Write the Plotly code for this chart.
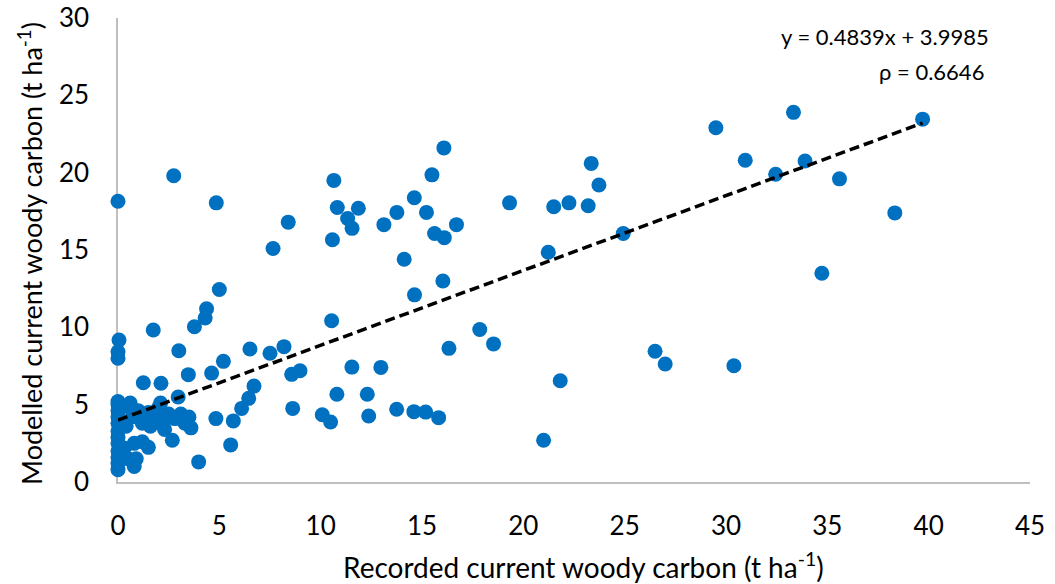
import plotly.graph_objects as go

# Recorded vs modelled current woody carbon (t ha-1) per plot
recorded = [
    0, 2.75, 4.85, 7.65, 8.4, 10.65, 10.82, 10.58, 11.33, 11.55, 11.86, 13.12,
    13.76, 14.12, 14.62, 15.22, 15.49, 15.62, 16.1, 16.08, 16.7, 19.32, 16.03,
    14.63, 21.5, 22.25, 23.2, 23.35, 23.73, 21.23, 24.93, 29.5, 33.33, 30.95,
    32.45, 33.9, 35.6, 39.7, 38.33, 34.73, 17.85, 18.53, 26.5, 27.0, 30.39,
    21.82, 21.0, 10.54, 16.33, 8.19, 7.5, 8.57, 8.98, 11.54, 12.97, 10.8, 12.3,
    8.62, 10.08, 10.49, 12.37, 13.75, 14.6, 15.18, 15.82, 5.0, 4.37, 4.3, 3.77,
    1.74, 0.05, 0, 0, 3.0, 5.2, 6.51, 3.47, 4.62, 1.25, 2.12, 6.71, 6.45, 6.1,
    5.69, 4.83, 5.56, 3.98, 2.68, 1.5, 2.97,
    0, 0, 0, 0, 0, 0, 0, 0, 0, 0, 0, 0,
    0.4, 0.6, 0.4, 0.3, 0.5, 0.8, 0.9, 0.8, 1.0, 1.2, 1.5, 1.6, 1.9, 2.1, 2.2,
    2.5, 2.8, 3.1, 3.3, 3.5, 3.6, 2.3, 1.2, 0.7, 2.0,
]
modelled = [
    18.15, 19.8, 18.05, 15.1, 16.8, 19.5, 17.75, 15.66, 17.04, 16.4, 17.7, 16.64,
    17.43, 14.4, 18.38, 17.43, 19.86, 16.07, 15.8, 21.6, 16.64, 18.05, 13.0,
    12.1, 17.8, 18.05, 17.86, 20.6, 19.2, 14.85, 16.07, 22.9, 23.9, 20.8,
    19.9, 20.75, 19.6, 23.46, 17.4, 13.5, 9.86, 8.93, 8.45, 7.63, 7.52,
    6.55, 2.7, 10.43, 8.64, 8.75, 8.32, 6.96, 7.19, 7.43, 7.41, 5.67, 5.67,
    4.76, 4.35, 3.88, 4.27, 4.7, 4.55, 4.52, 4.16, 12.45, 11.2, 10.6, 10.04,
    9.83, 9.18, 8.42, 8.0, 8.49, 7.8, 8.6, 6.94, 7.04, 6.42, 6.38, 6.2, 5.41, 4.76,
    3.95, 4.1, 2.4, 1.3, 2.7, 2.24, 5.5,
    0.8, 1.2, 1.6, 2.0, 2.5, 2.9, 3.3, 3.8, 4.2, 4.6, 5.0, 5.2,
    4.9, 5.1, 3.6, 2.2, 1.5, 1.0, 1.5, 2.5, 4.6, 3.8, 4.5, 3.6, 4.3, 5.1, 3.7,
    4.4, 4.1, 4.4, 3.8, 4.2, 3.5, 3.4, 2.6, 4.2, 4.8,
]

# Linear fit reported on the chart
slope = 0.4839
intercept = 3.9985
rho = 0.6646

x_ticks = [0, 5, 10, 15, 20, 25, 30, 35, 40, 45]
y_ticks = [0, 5, 10, 15, 20, 25, 30]

x_title = "Recorded current woody carbon (t ha<sup>-1</sup>)"
y_title = "Modelled current woody carbon (t ha<sup>-1</sup>)"

FONT = "Lato"
BLUE = "#0070C0"
AXIS_GREY = "#BFBFBF"

# Plot-area pixel frame used to place titles and the fit label
PLOT_LEFT, PLOT_RIGHT, PLOT_TOP, PLOT_BOTTOM = 118, 1030, 18, 482


def frac_x(px):
    return (px - PLOT_LEFT) / (PLOT_RIGHT - PLOT_LEFT)


def frac_y(py):
    return (PLOT_BOTTOM - py) / (PLOT_BOTTOM - PLOT_TOP)


fit_x = [min(recorded), max(recorded)]
fit_y = [slope * v + intercept for v in fit_x]

fig = go.Figure()
fig.add_trace(go.Scatter(
    x=recorded, y=modelled, mode="markers",
    marker=dict(color=BLUE, size=15, line=dict(width=0)),
    cliponaxis=False, showlegend=False, hoverinfo="x+y",
))
fig.add_trace(go.Scatter(
    x=fit_x, y=fit_y, mode="lines",
    line=dict(color="black", width=3.5, dash="10px,5px"),
    cliponaxis=False, showlegend=False, hoverinfo="skip",
))

fig.update_layout(
    width=1055, height=584,
    margin=dict(l=PLOT_LEFT, r=1055 - PLOT_RIGHT, t=PLOT_TOP, b=584 - PLOT_BOTTOM),
    paper_bgcolor="white", plot_bgcolor="white",
    font=dict(family=FONT, color="black", size=26),
    xaxis=dict(
        range=[0, 45], tickvals=x_ticks, ticktext=[str(v) for v in x_ticks],
        showgrid=False, zeroline=False, showline=True, linecolor=AXIS_GREY,
        linewidth=1.5, ticks="", ticklabelstandoff=20, layer="below traces",
        tickfont=dict(family=FONT, size=26, color="black"), automargin=False,
    ),
    yaxis=dict(
        range=[0, 30], tickvals=y_ticks, ticktext=[str(v) for v in y_ticks],
        showgrid=False, zeroline=False, showline=True, linecolor=AXIS_GREY,
        linewidth=1.5, ticks="", ticklabelstandoff=22, layer="below traces",
        tickfont=dict(family=FONT, size=26, color="black"), automargin=False,
    ),
)

# Axis titles
fig.add_annotation(
    xref="paper", yref="paper", x=frac_x(583), y=frac_y(565),
    xanchor="center", yanchor="middle", text=x_title, showarrow=False,
    font=dict(family=FONT, size=28, color="black"),
)
fig.add_annotation(
    xref="paper", yref="paper", x=frac_x(30), y=frac_y(254),
    xanchor="center", yanchor="middle", text=y_title, showarrow=False,
    textangle=-90, font=dict(family=FONT, size=27, color="black"),
)

# Fit equation and correlation
fig.add_annotation(
    xref="paper", yref="paper", x=frac_x(991), y=frac_y(36),
    xanchor="right", yanchor="middle",
    text=f"y = {slope}x + {intercept}", showarrow=False,
    font=dict(family=FONT, size=22, color="black"),
)
fig.add_annotation(
    xref="paper", yref="paper", x=frac_x(986), y=frac_y(71),
    xanchor="right", yanchor="middle",
    text=f"ρ = {rho}", showarrow=False,
    font=dict(family=FONT, size=22, color="black"),
)

fig.write_html("out.html")
